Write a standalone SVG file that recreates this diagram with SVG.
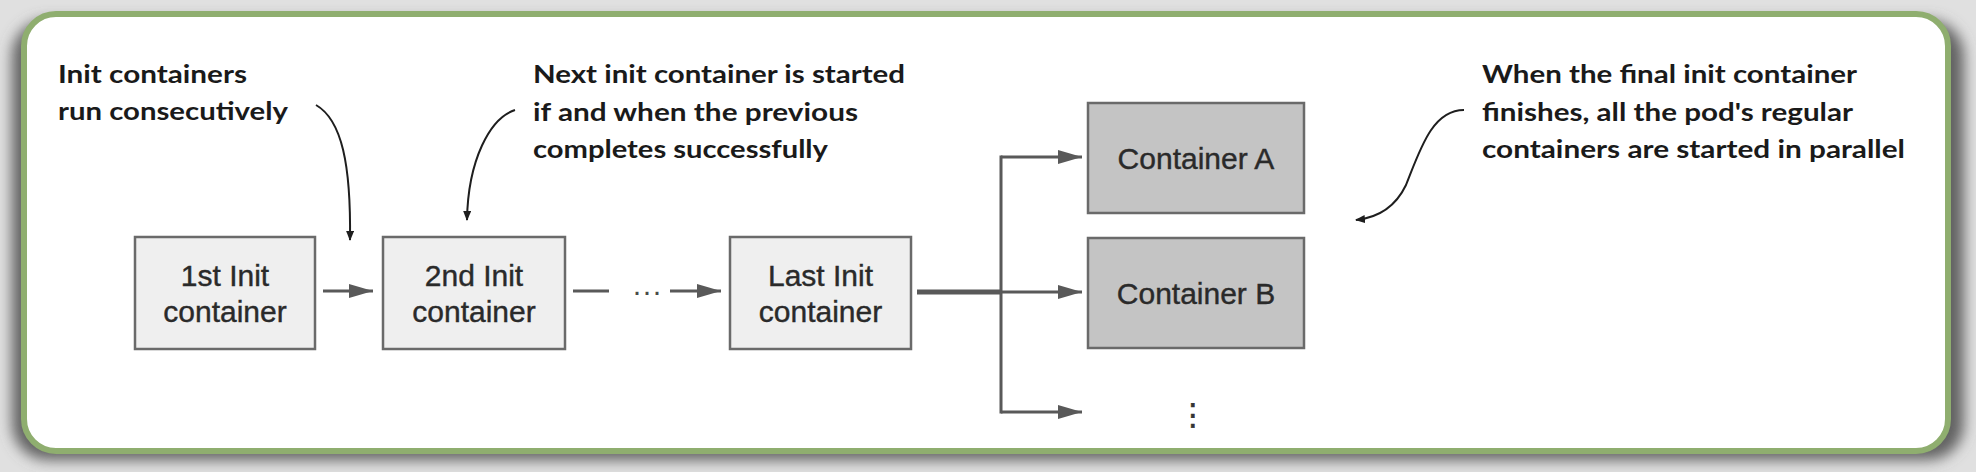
<svg xmlns="http://www.w3.org/2000/svg" width="1976" height="472" viewBox="0 0 1976 472">
  <defs>
    <filter id="shadow" x="-5%" y="-20%" width="110%" height="140%">
      <feGaussianBlur stdDeviation="7"/>
    </filter>
    <marker id="arrowGray" markerUnits="userSpaceOnUse" markerWidth="24" markerHeight="14" refX="24" refY="7" orient="auto">
      <path d="M0,0 L24,7 L0,14 Z" fill="#595959"/>
    </marker>
    <marker id="arrowBlack" markerUnits="userSpaceOnUse" markerWidth="10" markerHeight="8" refX="9" refY="4" orient="auto">
      <path d="M0,0 L10,4 L0,8 Z" fill="#1e1e1e"/>
    </marker>
    <style>
      .init { fill: #efefef; stroke: #6a6a6a; stroke-width: 2.5; }
      .main { fill: #c4c4c4; stroke: #6a6a6a; stroke-width: 2.5; }
      .boxtext { font-family: "Liberation Sans", Arial, sans-serif; font-size: 30px; fill: #2a2a2a; stroke: #2a2a2a; stroke-width: 0.4; text-anchor: middle; }
      .note { font-family: Lato, "Open Sans", sans-serif; font-weight: bold; font-size: 24.5px; fill: #1a1a1a; }
      .conn { fill: none; stroke: #595959; stroke-width: 3; }
      .thick { fill: none; stroke: #595959; stroke-width: 5; }
      .callout { fill: none; stroke: #1e1e1e; stroke-width: 2; }
    </style>
  </defs>

  <!-- background and frame -->
  <rect x="0" y="0" width="1976" height="472" fill="#e0e0e0"/>
  <rect x="12" y="20" width="1952" height="440" rx="36" fill="#626262" filter="url(#shadow)"/>
  <rect x="24" y="14" width="1924" height="437" rx="32" fill="#ffffff" stroke="#8fae6f" stroke-width="6"/>

  <!-- annotations -->
  <g id="note-consecutive">
    <text class="note" x="58" y="83" textLength="189" lengthAdjust="spacingAndGlyphs">Init containers</text>
    <text class="note" x="58" y="120" textLength="230" lengthAdjust="spacingAndGlyphs">run consecutively</text>
  </g>
  <g id="note-next">
    <text class="note" x="533" y="83" textLength="372" lengthAdjust="spacingAndGlyphs">Next init container is started</text>
    <text class="note" x="533" y="121" textLength="325" lengthAdjust="spacingAndGlyphs">if and when the previous</text>
    <text class="note" x="533" y="158" textLength="295" lengthAdjust="spacingAndGlyphs">completes successfully</text>
  </g>
  <g id="note-final">
    <text class="note" x="1482" y="83" textLength="375" lengthAdjust="spacingAndGlyphs">When the final init container</text>
    <text class="note" x="1482" y="121" textLength="371" lengthAdjust="spacingAndGlyphs">finishes, all the pod's regular</text>
    <text class="note" x="1482" y="158" textLength="423" lengthAdjust="spacingAndGlyphs">containers are started in parallel</text>
  </g>

  <!-- nodes -->
  <g id="init1">
    <rect class="init" x="135" y="237" width="180" height="112"/>
    <text class="boxtext" x="225" y="286">1st Init</text>
    <text class="boxtext" x="225" y="322">container</text>
  </g>
  <g id="init2">
    <rect class="init" x="383" y="237" width="182" height="112"/>
    <text class="boxtext" x="474" y="286">2nd Init</text>
    <text class="boxtext" x="474" y="322">container</text>
  </g>
  <g id="initLast">
    <rect class="init" x="730" y="237" width="181" height="112"/>
    <text class="boxtext" x="820.5" y="286">Last Init</text>
    <text class="boxtext" x="820.5" y="322">container</text>
  </g>
  <g id="containerA">
    <rect class="main" x="1088" y="103" width="216" height="110"/>
    <text class="boxtext" x="1196" y="169">Container A</text>
  </g>
  <g id="containerB">
    <rect class="main" x="1088" y="238" width="216" height="110"/>
    <text class="boxtext" x="1196" y="304">Container B</text>
  </g>
  <g id="more-containers">
    <text x="1193" y="425" font-family="'DejaVu Sans', sans-serif" font-size="30" fill="#333333" stroke="#333333" stroke-width="0.6" text-anchor="middle">⋮</text>
  </g>

  <!-- connectors -->
  <g id="connectors">
    <path class="conn" d="M323 291 H373" marker-end="url(#arrowGray)"/>
    <path class="conn" d="M573 291 H609"/>
    <text x="647" y="301" font-family="'Liberation Sans', Arial, sans-serif" font-size="30" fill="#4a4a4a" text-anchor="middle">···</text>
    <path class="conn" d="M670 291 H721" marker-end="url(#arrowGray)"/>
    <path class="thick" d="M917 292 H1001"/>
    <path class="conn" d="M1001 157 V412" stroke-linecap="square"/>
    <path class="conn" d="M1001 157 H1082" marker-end="url(#arrowGray)"/>
    <path class="conn" d="M1001 292 H1082" marker-end="url(#arrowGray)"/>
    <path class="conn" d="M1001 412 H1082" marker-end="url(#arrowGray)"/>
    <path class="callout" d="M316 105 C342 120 351 165 350 240" marker-end="url(#arrowBlack)"/>
    <path class="callout" d="M515 110 C490 118 468 160 467 220" marker-end="url(#arrowBlack)"/>
    <path class="callout" d="M1464 110 C1432 110 1420 150 1406 185 C1394 210 1375 218 1356 220" marker-end="url(#arrowBlack)"/>
  </g>
</svg>
